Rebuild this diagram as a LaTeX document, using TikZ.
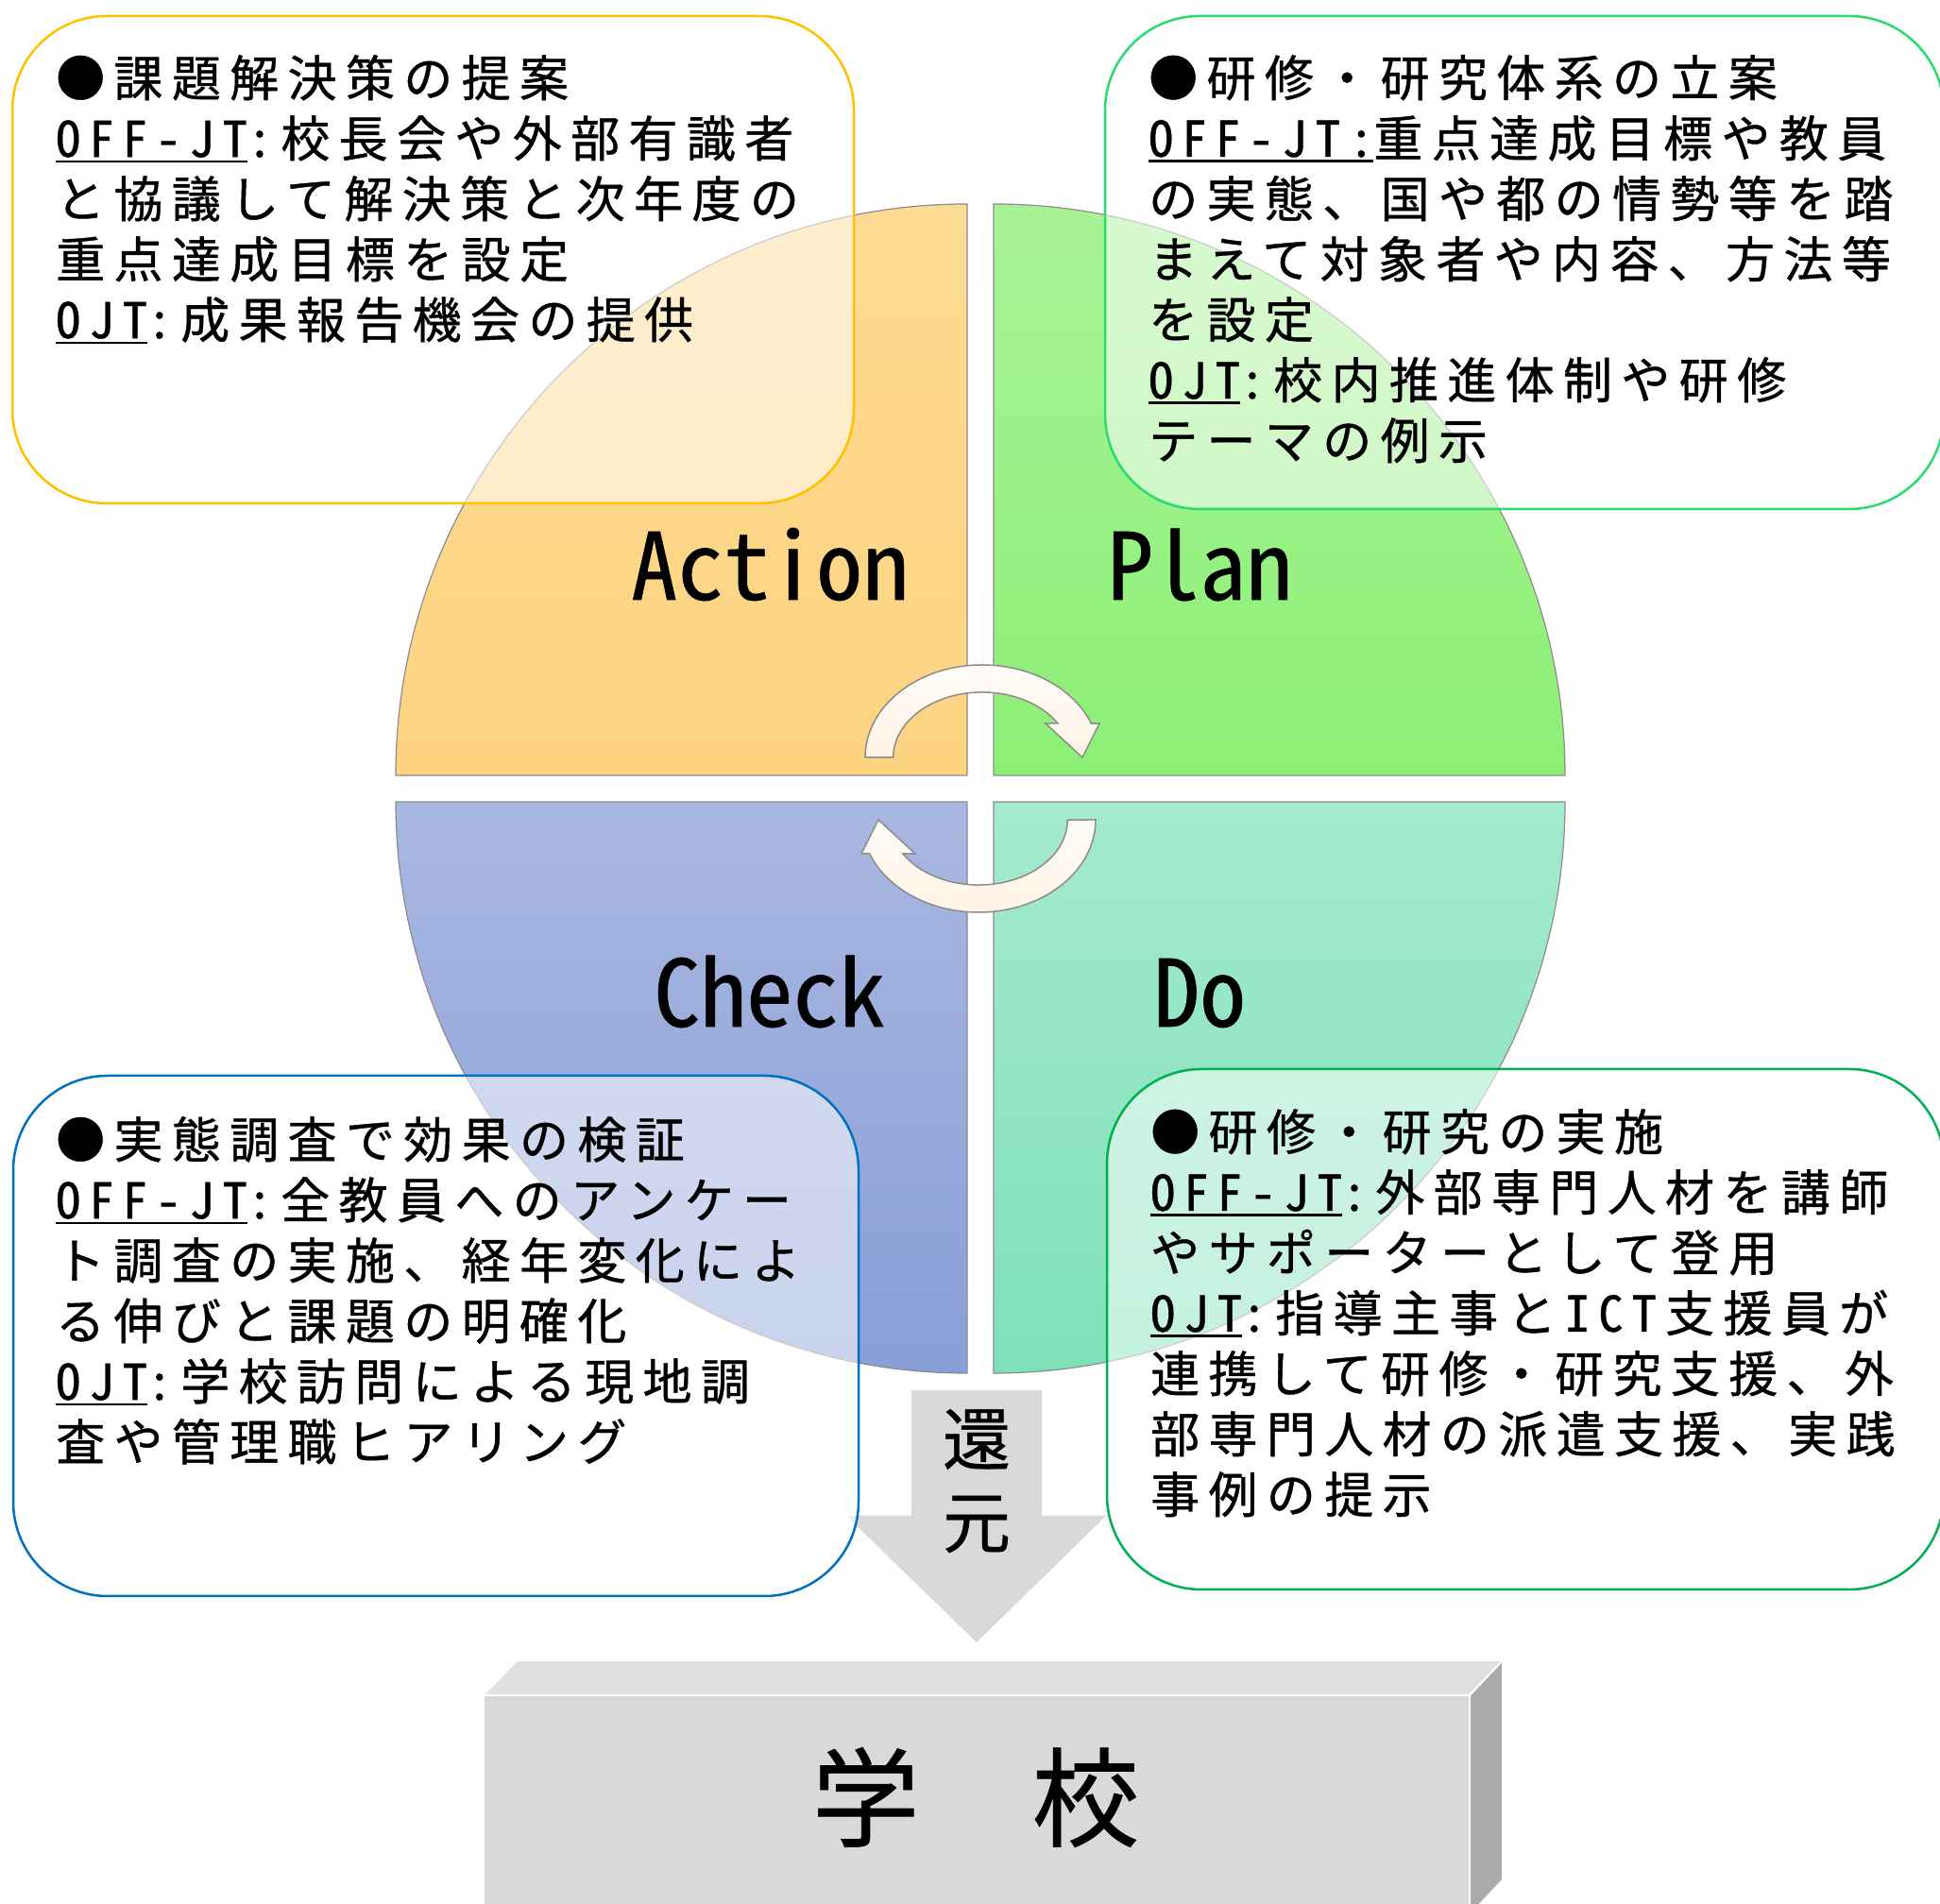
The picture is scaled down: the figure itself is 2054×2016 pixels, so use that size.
\documentclass[tikz,border=0pt]{standalone}
\usepackage{fontspec}
\newfontfamily\jpf[RawFeature=+hwid,LetterSpace=18,FakeBold=0.8]{Noto Sans CJK JP}
\newfontfamily\jpl[RawFeature=+hwid,FakeBold=0.6]{Noto Sans CJK JP}
\definecolor{actT}{RGB}{253,219,148}
\definecolor{actB}{RGB}{253,211,128}
\definecolor{plaT}{RGB}{168,242,150}
\definecolor{plaB}{RGB}{140,240,118}
\definecolor{chkT}{RGB}{170,184,225}
\definecolor{chkB}{RGB}{135,158,215}
\definecolor{doT}{RGB}{165,234,206}
\definecolor{doB}{RGB}{126,224,184}
\definecolor{qline}{RGB}{140,140,140}
\definecolor{arwT}{RGB}{255,252,248}
\definecolor{arwB}{RGB}{255,243,228}
\definecolor{bxA}{RGB}{255,192,0}
\definecolor{bxP}{RGB}{40,220,110}
\definecolor{bxC}{RGB}{0,112,192}
\definecolor{bxD}{RGB}{0,176,80}
\definecolor{gfront}{RGB}{217,217,217}
\definecolor{gtop}{RGB}{224,224,224}
\definecolor{gside}{RGB}{170,170,170}
\newcommand{\ulx}[1]{\leavevmode\setbox0\hbox{#1}\rlap{\rule[-6pt]{\wd0}{2.5pt}}\box0}
\tikzset{
  quad/.style={draw=qline,line width=1.2},
  cyc/.style={draw=qline,line width=1.5,top color=arwT,bottom color=arwB},
  infobox/.style={line width=2.5,fill=white,fill opacity=0.55,rounded corners=100},
  boxtext/.style={anchor=north west,inner sep=0,align=left,font=\jpf\fontsize{52}{64}\selectfont},
  lab/.style={anchor=base west,inner sep=0,font=\jpl\fontsize{98}{98}\selectfont},
}
\begin{document}
\begin{tikzpicture}[x=1pt,y=1pt]
\useasboundingbox (0,0) rectangle (2054,2016);
% quadrants
\shadedraw[quad,top color=plaT,bottom color=plaB] (1052,1195) -- (1657,1195) arc[start angle=0,end angle=90,radius=605] -- cycle;
\shadedraw[quad,top color=actT,bottom color=actB] (1024,1195) -- (1024,1800) arc[start angle=90,end angle=180,radius=605] -- cycle;
\shadedraw[quad,top color=chkT,bottom color=chkB] (1024,1167) -- (419,1167) arc[start angle=180,end angle=270,radius=605] -- cycle;
\shadedraw[quad,top color=doT,bottom color=doB] (1052,1167) -- (1052,562) arc[start angle=270,end angle=360,radius=605] -- cycle;
% cycle arrows
\shadedraw[cyc] (916,1214) arc[start angle=180,end angle=21.5,x radius=124,y radius=98] -- (1164,1250) -- (1146,1214) -- (1107,1250) -- (1120,1250) arc[start angle=31.4,end angle=180,x radius=94,y radius=69] -- cycle;
\shadedraw[cyc,rotate around={180:(1038,1181)}] (916,1214) arc[start angle=180,end angle=21.5,x radius=124,y radius=98] -- (1164,1250) -- (1146,1214) -- (1107,1250) -- (1120,1250) arc[start angle=31.4,end angle=180,x radius=94,y radius=69] -- cycle;
% labels
\node[lab] (act) at (668,1381) {Action};
\node[lab] (pla) at (1172,1381) {Plan};
\node[lab] (chk) at (692,929) {Check};
\node[lab] (doo) at (1221,929) {Do};
% down arrow
\fill[gfront] (965,544) -- (1103,544) -- (1103,411) -- (1171,411) -- (1034,277) -- (896,411) -- (965,411) -- cycle;
\node[font=\jpl\fontsize{72}{72}\selectfont,inner sep=0] (kan) at (1034,492) {還};
\node[font=\jpl\fontsize{72}{72}\selectfont,inner sep=0] (gen) at (1034,402) {元};
% school block
\fill[gfront] (513,-20) rectangle (1556,221);
\fill[gtop] (513,221) -- (548,257) -- (1590,257) -- (1556,221) -- cycle;
\fill[gside] (1556,221) -- (1590,257) -- (1590,26) -- (1556,-10) -- cycle;
\draw[white,line width=2] (513,221) -- (1556,221) -- (1590,257);
\draw[white,line width=2] (1556,221) -- (1556,-20);
\node[font=\jpl\fontsize{114}{114}\selectfont,inner sep=0] (school) at (1033,113) {学\hspace{119pt}校};
% info boxes
\path[infobox,draw=bxA] (13,1483) rectangle (904,1999);
\path[infobox,draw=bxP] (1170,1477) rectangle (2058,1999);
\path[infobox,draw=bxC] (14,326) rectangle (909,877);
\path[infobox,draw=bxD] (1172,333) rectangle (2058,884);
\node[boxtext] (tA) at (59,1958) {●課題解決策の提案\\\ulx{OFF-JT}:校長会や外部有識者\\と協議して解決策と次年度の\\重点達成目標を設定\\\ulx{OJT}:成果報告機会の提供};
\node[boxtext] (tP) at (1216,1958) {●研修・研究体系の立案\\\ulx{OFF-JT:}重点達成目標や教員\\の実態、国や都の情勢等を踏\\まえて対象者や内容、方法等\\を設定\\\ulx{OJT}:校内推進体制や研修\\テーマの例示};
\node[boxtext] (tC) at (59,834) {●実態調査で効果の検証\\\ulx{OFF-JT}:全教員へのアンケー\\ト調査の実施、経年変化によ\\る伸びと課題の明確化\\\ulx{OJT}:学校訪問による現地調\\査や管理職ヒアリング};
\node[boxtext] (tD) at (1218,842) {●研修・研究の実施\\\ulx{OFF-JT}:外部専門人材を講師\\やサポーターとして登用\\\ulx{OJT}:指導主事とICT支援員が\\連携して研修・研究支援、外\\部専門人材の派遣支援、実践\\事例の提示};
\end{tikzpicture}
\end{document}
